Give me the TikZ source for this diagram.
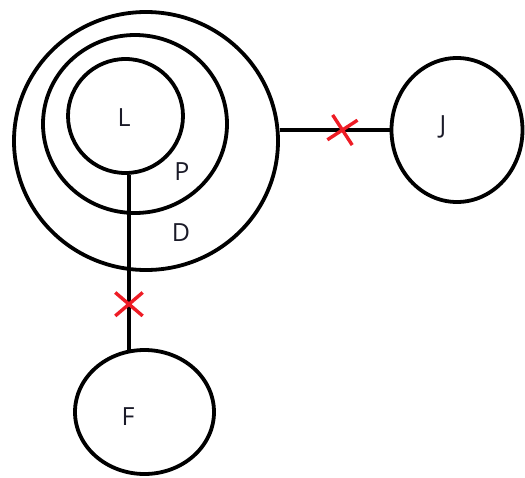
\documentclass[tikz,border=0pt]{standalone}
\usepackage{fontspec}
\setmainfont{Open Sans}
\usetikzlibrary{shapes.geometric}
\usetikzlibrary{shapes.misc}
\pgfdeclarelayer{edgelayer}
\pgfdeclarelayer{nodelayer}
\pgfsetlayers{edgelayer,nodelayer,main}
\definecolor{crossred}{HTML}{EE1C25}
\definecolor{labelink}{HTML}{1A1A28}
\tikzstyle{region}=[ellipse,draw=black,line width=3.8pt,inner sep=0pt]
\tikzstyle{tag}=[text=labelink,inner sep=0pt,font=\fontsize{25}{30}\selectfont]
\tikzstyle{wire}=[-,draw=black,line width=3.8pt]
\tikzstyle{cutmark}=[cross out,draw=crossred,line width=3.4pt,inner sep=0pt,minimum width=24pt,minimum height=20pt]

\begin{document}
\begin{tikzpicture}[x=1pt,y=-1pt]
	\useasboundingbox (0,0) rectangle (525,477);
	\begin{pgfonlayer}{nodelayer}
		\node [style=region, minimum width=264pt, minimum height=258pt] (0) at (146, 141) {};
		\node [style=region, minimum width=184pt, minimum height=178pt] (1) at (135, 124) {};
		\node [style=region, minimum width=115pt, minimum height=114pt] (2) at (125.5, 116) {};
		\node [style=region, minimum width=131pt, minimum height=144pt] (3) at (457, 130) {};
		\node [style=region, minimum width=139pt, minimum height=124pt] (4) at (144.5, 412) {};
		\node [style=tag] (5) at (124, 118) {L};
		\node [style=tag] (6) at (182, 172) {P};
		\node [style=tag] (7) at (181, 233) {D};
		\node [style=tag] (8) at (443, 127) {J};
		\node [style=tag] (9) at (128, 417) {F};
	\end{pgfonlayer}
	\begin{pgfonlayer}{edgelayer}
		\draw [style=wire] (0.east |- 3.west) to node[style=cutmark, pos=0.57, rotate=-12, minimum width=22pt, minimum height=22pt] (10) {} (3.west);
		\draw [style=wire] (4.104) to node[style=cutmark, pos=0.26] (11) {} (4.104 |- 2.south);
	\end{pgfonlayer}
\end{tikzpicture}
\end{document}
